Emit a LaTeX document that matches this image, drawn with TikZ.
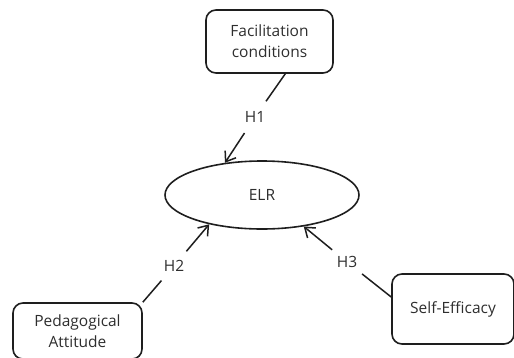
\documentclass[tikz,border=0pt]{standalone}
\usepackage{fontspec}
\setmainfont{Open Sans}
\usetikzlibrary{shapes.geometric,arrows.meta}

\definecolor{ink}{HTML}{1E1E1E}
\definecolor{txt}{HTML}{2E2E2E}

\begin{document}
\begin{tikzpicture}[x=1pt,y=-1pt,
    font=\fontsize{15.5}{21}\selectfont,
    box/.style={draw=ink,line width=1.6pt,rounded corners=10pt,align=center,text=txt,inner sep=0pt},
    oval/.style={draw=ink,line width=1.6pt,ellipse,inner sep=0pt,text=txt,minimum width=194pt,minimum height=68pt},
    hyp/.style={circle,inner sep=0pt,minimum size=38pt,text=txt},
    link/.style={draw=ink,line width=1.5pt},
    >={Straight Barb[length=9pt,width=13pt]}]

    \useasboundingbox (0,0) rectangle (514,357);

    % Constructs
    \node[box,minimum width=127pt,minimum height=63pt] (fac) at (269.5,41.5) {Facilitation\\conditions};
    \node[oval] (elr) at (262,195) {ELR};
    \node[box,minimum width=129pt,minimum height=56pt] (ped) at (77.5,331) {Pedagogical\\Attitude};
    \node[box,minimum width=122pt,minimum height=70pt] (self) at (453,309) {Self-Efficacy};

    % Hypotheses
    \node[hyp] (h1) at (255,117) {H1};
    \node[hyp] (h2) at (174,266) {H2};
    \node[hyp] (h3) at (347,262) {H3};

    \draw[link] (fac.-64) -- (h1);
    \draw[link,->] (h1) -- (elr.139);
    \draw[link] (ped.north east) -- (h2);
    \draw[link,->] (h2) -- (elr.209);
    \draw[link] (self.169) -- (h3);
    \draw[link,->] (h3) -- (elr.323);

\end{tikzpicture}
\end{document}
